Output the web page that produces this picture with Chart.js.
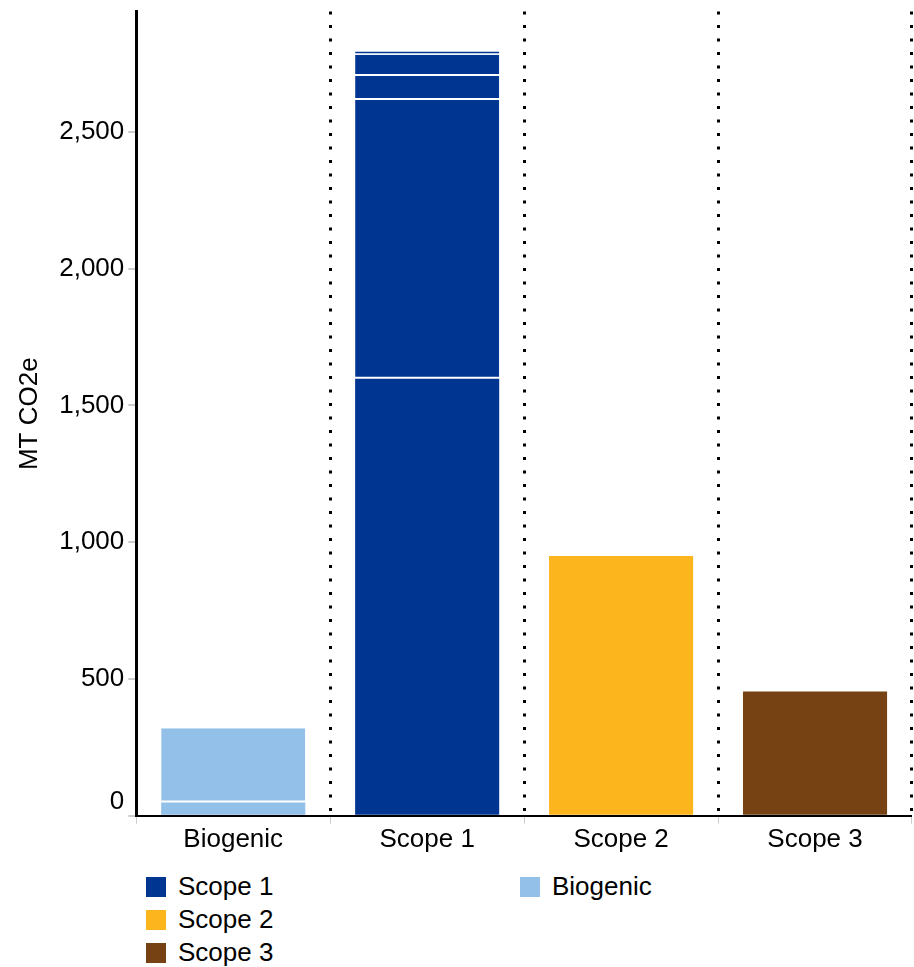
<!DOCTYPE html>
<html>
<head>
<meta charset="utf-8">
<script src="https://cdn.jsdelivr.net/npm/chart.js@4"></script>
<style>
  body { margin: 0; background: #fff; font-family: "Liberation Sans", Arial, sans-serif; }
  #wrap { position: relative; width: 914px; height: 863px; margin-top: -8px; }
  #legend { position: absolute; left: 146px; top: 870px; width: 760px; font-size: 26px; color: #000;
            display: grid; grid-template-columns: 374px 300px; grid-auto-flow: column; grid-template-rows: 33px 33px 33px; }
  .item { display: flex; align-items: center; height: 33px; }
  .sw { width: 20px; height: 20px; margin-right: 12px; }
</style>
</head>
<body>
<div id="wrap"><canvas id="chart"></canvas></div>
<div id="legend"></div>
<script>
const categories = ['Biogenic', 'Scope 1', 'Scope 2', 'Scope 3']
// stacked pieces, bottom to top
const biogenicParts = [49, 271]
const scope1Parts = [1598, 1019, 88, 77, 12]
const scope2Value = 950
const scope3Value = 454
const yTicks = [0, 500, 1000, 1500, 2000, 2500]
const yMax = 2940
const legendNames = ['Scope 1', 'Scope 2', 'Scope 3', 'Biogenic']
const colors = {
    'Scope 1': '#003591',
    'Scope 2': '#fdb51e',
    'Scope 3': '#764214',
    'Biogenic': '#93c0e8'
}

function piece(name, idx, value, first) {
    const data = categories.map(c => c === categories[idx] ? value : null)
    return {
        label: name,
        data: data,
        backgroundColor: colors[name],
        borderColor: '#fff',
        borderWidth: { top: 0, left: 0, right: 0, bottom: first ? 0 : 2 },
        borderSkipped: false,
        barPercentage: 0.743,
        categoryPercentage: 1
    }
}

const datasets = []
biogenicParts.forEach((v, i) => datasets.push(piece('Biogenic', 0, v, i === 0)))
scope1Parts.forEach((v, i) => datasets.push(piece('Scope 1', 1, v, i === 0)))
datasets.push(piece('Scope 2', 2, scope2Value, true))
datasets.push(piece('Scope 3', 3, scope3Value, true))

const font = { family: '"Liberation Sans", Arial, sans-serif', size: 26 }

// the original sits its "0" label above the baseline
const zeroLabelUp = {
    id: 'zeroLabelUp',
    beforeDraw(chart) {
        const items = chart.scales.y.getLabelItems()
        const first = items[0]
        if (first && !first.moved) {
            first.options.translation[1] -= 14
            first.moved = true
        }
    }
}

new Chart(document.getElementById('chart'), {
    type: 'bar',
    data: { labels: categories, datasets: datasets },
    plugins: [zeroLabelUp],
    options: {
        responsive: true,
        maintainAspectRatio: false,
        animation: false,
        layout: { padding: { top: 0, right: 2, left: 6, bottom: 0 } },
        plugins: { legend: { display: false }, tooltip: { enabled: false } },
        scales: {
            x: {
                stacked: true,
                grid: {
                    offset: true,
                    color: '#000',
                    lineWidth: 3,
                    tickColor: '#ccc',
                    tickWidth: 1,
                    tickLength: 8,
                    tickBorderDash: []
                },
                border: { display: false, dash: [3, 10.5] },
                ticks: { color: '#000', font: font, padding: 0 }
            },
            y: {
                stacked: true,
                min: 0,
                max: yMax,
                afterBuildTicks: scale => { scale.ticks = yTicks.map(v => ({ value: v })) },
                grid: {
                    drawOnChartArea: true,
                    color: ctx => ctx.tick && ctx.tick.value === 0 ? '#000' : 'rgba(0,0,0,0)',
                    lineWidth: 2,
                    tickColor: '#ccc',
                    tickLength: 8
                },
                border: { color: '#000', width: 3 },
                ticks: { color: '#000', font: font, padding: 4 },
                title: { display: true, text: 'MT CO2e', color: '#000', font: font, padding: { top: 8, bottom: 10 } }
            }
        }
    }
})

// legend in two columns like the original
const legend = document.getElementById('legend')
legendNames.forEach(name => {
    const item = document.createElement('div')
    item.className = 'item'
    item.innerHTML = `<span class="sw" style="background:${colors[name]}"></span><span>${name}</span>`
    legend.appendChild(item)
})
</script>
</body>
</html>
